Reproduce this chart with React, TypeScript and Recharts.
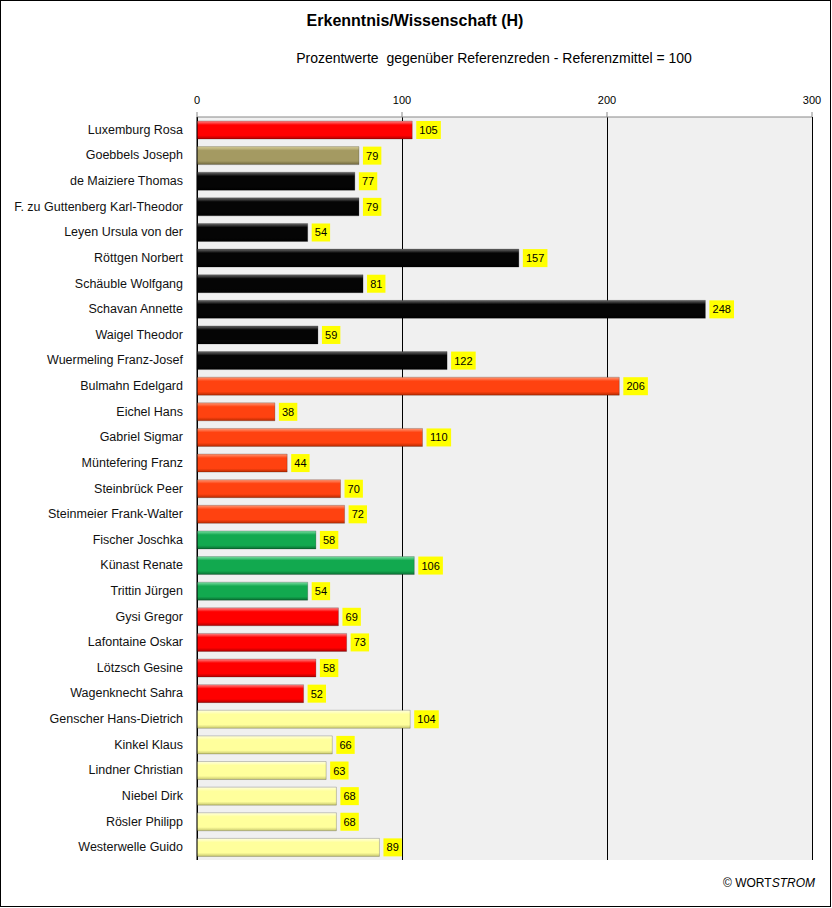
import React from "react";
import { BarChart, Bar, XAxis, YAxis, CartesianGrid, Cell, LabelList } from "recharts";

// speakers, top to bottom
const speakers = [
  "Luxemburg Rosa",
  "Goebbels Joseph",
  "de Maiziere Thomas",
  "F. zu Guttenberg Karl-Theodor",
  "Leyen Ursula von der",
  "Röttgen Norbert",
  "Schäuble Wolfgang",
  "Schavan Annette",
  "Waigel Theodor",
  "Wuermeling Franz-Josef",
  "Bulmahn Edelgard",
  "Eichel Hans",
  "Gabriel Sigmar",
  "Müntefering Franz",
  "Steinbrück Peer",
  "Steinmeier Frank-Walter",
  "Fischer Joschka",
  "Künast Renate",
  "Trittin Jürgen",
  "Gysi Gregor",
  "Lafontaine Oskar",
  "Lötzsch Gesine",
  "Wagenknecht Sahra",
  "Genscher Hans-Dietrich",
  "Kinkel Klaus",
  "Lindner Christian",
  "Niebel Dirk",
  "Rösler Philipp",
  "Westerwelle Guido",
];

const scores = [105, 79, 77, 79, 54, 157, 81, 248, 59, 122, 206, 38, 110, 44, 70, 72, 58, 106, 54, 69, 73, 58, 52, 104, 66, 63, 68, 68, 89];

const parties = [
  "red", "nsdap", "union", "union", "union", "union", "union", "union", "union", "union",
  "spd", "spd", "spd", "spd", "spd", "spd",
  "gruene", "gruene", "gruene",
  "red", "red", "red", "red",
  "fdp", "fdp", "fdp", "fdp", "fdp", "fdp",
];

const xTicks = [0, 100, 200, 300];

// light top edge, base, dark bottom edge
const partyShades: Record<string, [string, string, string]> = {
  red: ["#ff8a8a", "#ff0000", "#b00000"],
  nsdap: ["#d8cf98", "#a49a62", "#6e663c"],
  union: ["#6a6a6a", "#050505", "#000000"],
  spd: ["#ff9a78", "#ff4210", "#b82a00"],
  gruene: ["#7de0a4", "#12a94f", "#0a6e32"],
  fdp: ["#ffffe0", "#ffff9c", "#c8c870"],
};

const data = speakers.map((name, i) => ({ name, value: scores[i], party: parties[i] }));

const font = "'Liberation Sans', Arial, sans-serif";

function ValueBox(props: any) {
  const { x, y, width, height, value } = props;
  const label = String(value);
  const w = label.length * 6.2 + 6;
  const h = 18;
  const bx = x + width + 4;
  const by = y + height / 2 - h / 2;
  return (
    <g>
      <rect x={bx} y={by} width={w} height={h} fill="#ffff00" />
      <text x={bx + w / 2} y={by + h / 2 + 4} textAnchor="middle" fontSize={11} fontFamily={font} fill="#000">
        {label}
      </text>
    </g>
  );
}

function NameTick(props: any) {
  const { x, y, payload } = props;
  return (
    <text x={x} y={y + 4} textAnchor="end" fontSize={12.5} fontFamily={font} fill="#111">
      {payload.value}
    </text>
  );
}

export default function App() {
  return (
    <div
      style={{
        position: "absolute",
        left: 0,
        top: 0,
        width: 832,
        height: 908,
        background: "#fff",
        fontFamily: font,
      }}
    >
      <div
        style={{
          position: "absolute",
          left: 0,
          top: 0,
          width: 831,
          height: 907,
          border: "1px solid #000",
          boxSizing: "border-box",
          pointerEvents: "none",
          zIndex: 2,
        }}
      />
      <div style={{ position: "absolute", left: 0, width: 830, top: 12, textAlign: "center", fontWeight: "bold", fontSize: 16, color: "#000" }}>
        Erkenntnis/Wissenschaft (H)
      </div>
      <div style={{ position: "absolute", left: 194, width: 600, top: 50, textAlign: "center", fontSize: 14, color: "#000", whiteSpace: "pre" }}>
        {"Prozentwerte  gegenüber Referenzreden - Referenzmittel = 100"}
      </div>
      <div style={{ position: "absolute", right: 17, top: 876, fontSize: 12, color: "#000" }}>
        © WORT<span style={{ fontStyle: "italic" }}>STROM</span>
      </div>
      <BarChart
        width={832}
        height={908}
        data={data}
        layout="vertical"
        margin={{ top: 80, right: 20, bottom: 48, left: 0 }}
        barSize={18}
      >
        <defs>
          {Object.entries(partyShades).map(([key, [light, base, dark]]) => (
            <linearGradient key={key} id={`grad-${key}`} x1="0" y1="0" x2="0" y2="1">
              <stop offset="0%" stopColor={light} />
              <stop offset="22%" stopColor={base} />
              <stop offset="80%" stopColor={base} />
              <stop offset="100%" stopColor={dark} />
            </linearGradient>
          ))}
        </defs>
        <CartesianGrid
          xAxisId="top"
          horizontal={false}
          stroke="#000"
          strokeOpacity={1}
          fill="#f0f0f0"
          shapeRendering="crispEdges"
        />
        <XAxis
          xAxisId="top"
          type="number"
          orientation="top"
          domain={[0, 300]}
          ticks={xTicks}
          height={37}
          tickSize={5}
          tickMargin={8}
          axisLine={{ stroke: "#888" }}
          tickLine={{ stroke: "#888" }}
          tick={{ fontSize: 11, fill: "#000", fontFamily: font }}
        />
        <XAxis
          xAxisId="bottom"
          type="number"
          orientation="bottom"
          domain={[0, 300]}
          height={0}
          tick={false}
          tickLine={false}
          axisLine={{ stroke: "#000" }}
        />
        <YAxis
          type="category"
          dataKey="name"
          width={197}
          interval={0}
          tickLine={false}
          tickSize={0}
          tickMargin={14}
          axisLine={{ stroke: "#000" }}
          tick={<NameTick />}
        />
        <Bar xAxisId="top" dataKey="value" isAnimationActive={false} stroke="rgba(0,0,0,0.3)" strokeWidth={0.7}>
          {data.map((d, i) => (
            <Cell key={i} fill={`url(#grad-${d.party})`} />
          ))}
          <LabelList dataKey="value" content={<ValueBox />} />
        </Bar>
      </BarChart>
    </div>
  );
}
